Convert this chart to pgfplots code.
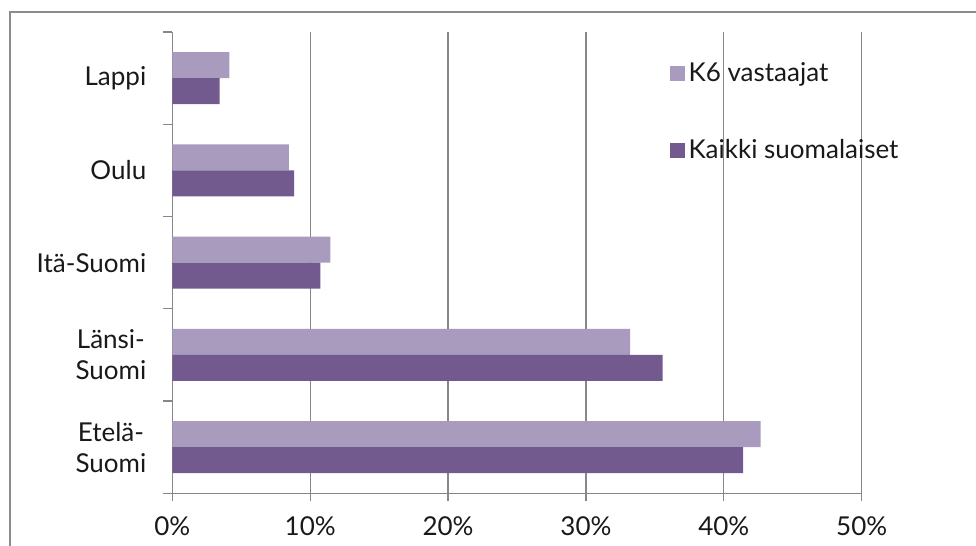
\documentclass[border=0pt]{standalone}
\usepackage{fontspec}
\setmainfont{Lato}
\usepackage{pgfplots}
\pgfplotsset{compat=1.18}
\definecolor{lightp}{HTML}{A99BBD}
\definecolor{darkp}{HTML}{725A8F}
\definecolor{axisgray}{HTML}{878787}
\definecolor{framegray}{HTML}{8C8C8C}
\newcommand{\lblfont}{\fontsize{13}{15.5}\selectfont}
\begin{document}
\begin{tikzpicture}
\path[use as bounding box] (0,0) rectangle (488pt,273pt);
\draw[color=framegray, line width=0.8pt] (5pt,0) -- (5pt,267pt) -- (488pt,267pt);
\begin{axis}[
  at={(86.15pt,26.35pt)}, anchor=south west,
  scale only axis, width=344.7pt, height=230.65pt,
  xbar, xmin=0, xmax=50, ymin=-0.5, ymax=4.5,
  axis x line*=bottom, axis y line*=left,
  axis line style={color=axisgray, line width=0.6pt, -},
  xtick={0,10,20,30,40,50},
  xticklabels={0\%,10\%,20\%,30\%,40\%,50\%},
  xmajorgrids, grid style={color=axisgray, line width=0.6pt},
  ytick={0,1,2,3,4},
  yticklabels={{Etelä-\\Suomi},{Länsi-\\Suomi},{Itä-Suomi},{Oulu},{Lappi}},
  yticklabel style={align=center, xshift=-5.5pt},
  minor ytick={-0.5,0.5,1.5,2.5,3.5,4.5},
  tick align=outside,
  major tick length=4pt, minor tick length=4.5pt,
  tick style={color=axisgray, line width=0.6pt},
  major y tick style={draw=none},
  every tick label/.append style={font=\lblfont, text=black!90},
  xticklabel style={yshift=-4.2pt},
  legend style={at={(0.712,0.952)}, anchor=north west, draw=none, fill=none,
    font=\lblfont, row sep=23.5pt, text=black!90},
  legend cell align=left,
  legend image code/.code={\fill[#1] (0pt,-3.75pt) rectangle (7.5pt,3.75pt);},
]
\addplot[fill=lightp, draw=none, bar width=0.282, bar shift=0.141]
  coordinates {(42.67,0) (33.2,1) (11.47,2) (8.45,3) (4.14,4)};
\addplot[fill=darkp, draw=none, bar width=0.282, bar shift=-0.141]
  coordinates {(41.4,0) (35.56,1) (10.74,2) (8.83,3) (3.44,4)};
\legend{K6 vastaajat, Kaikki suomalaiset}
\end{axis}
\end{tikzpicture}
\end{document}
